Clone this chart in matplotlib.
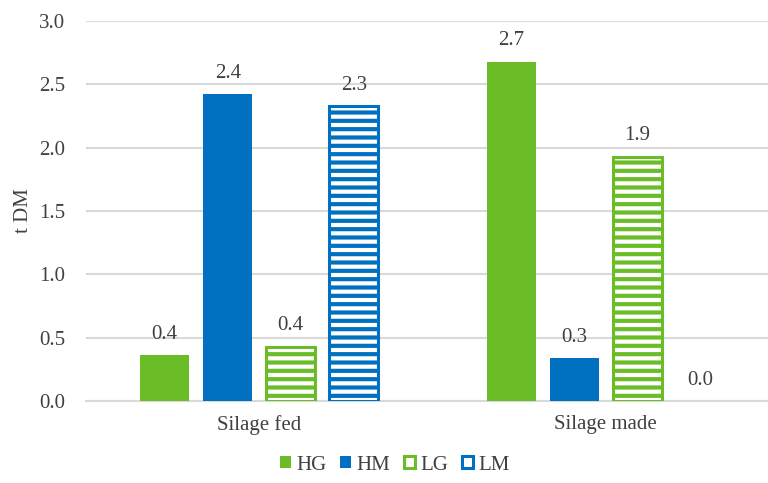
import matplotlib
matplotlib.use("Agg")
import matplotlib.pyplot as plt
import numpy as np
from matplotlib.patches import Patch

categories = ["Silage fed", "Silage made"]
series = ["HG", "HM", "LG", "LM"]
hg = [0.36, 2.68]
hm = [2.42, 0.34]
lg = [0.43, 1.93]
lm = [2.33, 0.0]
yticks = [0.0, 0.5, 1.0, 1.5, 2.0, 2.5, 3.0]

green = "#6ABD27"
blue = "#0070C0"
txt = "#404040"
grid = "#D9D9D9"
fs = 15

plt.rcParams['font.family'] = ['Liberation Serif', 'DejaVu Serif']
plt.rcParams['hatch.linewidth'] = 3.0

W, H = 768, 483
fig = plt.figure(figsize=(W/100, H/100), dpi=100)
left, right, bottom, top = 86, 768, 82, 462
ax = fig.add_axes([left/W, bottom/H, (right-left)/W, (top-bottom)/H])

x = np.arange(len(categories))
bw = 0.141
offs = [-0.2727, -0.0909, 0.0909, 0.2727]
data = [hg, hm, lg, lm]
styles = [
    dict(color=green, edgecolor=green, linewidth=0),
    dict(color=blue, edgecolor=blue, linewidth=0),
    dict(facecolor="white", edgecolor=green, hatch="--", linewidth=2.2),
    dict(facecolor="white", edgecolor=blue, hatch="--", linewidth=2.2),
]
for vals, off, st in zip(data, offs, styles):
    bars = ax.bar(x + off, vals, bw, zorder=3, **st)
    for b, v in zip(bars, vals):
        if v == 0:
            b.set_linewidth(0)
    for xi, v in zip(x + off, vals):
        ax.annotate(f"{v:.1f}", (xi, v), xytext=(0, 8), textcoords="offset points",
                    ha="center", va="bottom", fontsize=fs, color=txt)

ax.set_ylim(0, 3.0)
ax.set_xlim(-0.5, -0.5 + (right-left)/346.5)
ax.set_yticks(yticks)
ax.set_yticklabels([f"{t:.1f}" for t in yticks])
ax.set_xticks(x)
ax.set_xticklabels(categories)
ax.tick_params(axis="both", length=0, labelsize=fs, colors=txt)
ax.tick_params(axis="y", pad=15)
ax.tick_params(axis="x", pad=10)
ax.yaxis.grid(True, color=grid, linewidth=1.5, zorder=0)
ax.set_axisbelow(True)
for s in ["left", "right", "top"]:
    ax.spines[s].set_visible(False)
ax.spines["bottom"].set_color(grid)
ax.spines["bottom"].set_linewidth(1.5)
ax.set_ylabel("t DM", fontsize=fs, color=txt, labelpad=4)

handles = [
    Patch(facecolor=green, edgecolor=green, linewidth=0),
    Patch(facecolor=blue, edgecolor=blue, linewidth=0),
    Patch(facecolor="white", edgecolor=green, linewidth=2.2),
    Patch(facecolor="white", edgecolor=blue, linewidth=2.2),
]
fig.legend(handles, series, loc="center", bbox_to_anchor=(395/W, 1 - 465/H), ncol=4,
           frameon=False, fontsize=fs, handlelength=0.53, handleheight=0.53,
           handletextpad=0.25, columnspacing=0.67, labelcolor=txt)

fig.savefig("out.png", dpi=100)
